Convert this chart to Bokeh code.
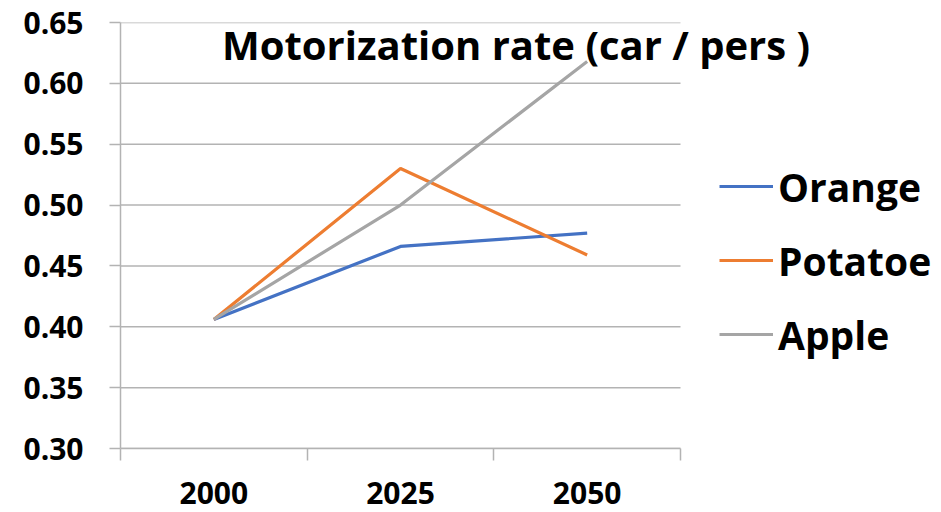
from bokeh.plotting import figure
from bokeh.models import (Range1d, FixedTicker, Legend, LegendItem, Label)
from bokeh.embed import file_html
from bokeh.resources import INLINE

years = ["2000", "2025", "2050"]
orange = [0.406, 0.466, 0.477]
potatoe = [0.406, 0.530, 0.459]
apple = [0.406, 0.500, 0.618]
y_ticks = [0.30, 0.35, 0.40, 0.45, 0.50, 0.55, 0.60, 0.65]
title_text = "Motorization rate (car / pers )"

FONT = "Open Sans"
GRID = "#B3B3B3"
W, H = 940, 511
LEFT, TOP, BOTTOM = 120, 22, 63
AXIS_W = 560  # pixel width of the category area

n = len(years)
xs = [i + 0.5 for i in range(n)]
bounds = [float(i) for i in range(n + 1)]
x_end = n * (W - LEFT) / AXIS_W

p = figure(width=W, height=H, output_backend="svg", toolbar_location=None,
           x_range=Range1d(0, x_end), y_range=Range1d(y_ticks[0], y_ticks[-1]),
           min_border_left=LEFT, min_border_right=0, min_border_top=TOP,
           min_border_bottom=BOTTOM)
p.outline_line_color = None
p.background_fill_color = "white"
p.border_fill_color = "white"
p.xgrid.grid_line_color = None
p.ygrid.grid_line_color = None

# horizontal gridlines limited to the category area
p.segment(x0=[0] * len(y_ticks), x1=[n] * len(y_ticks), y0=y_ticks, y1=y_ticks,
          line_color=GRID, line_width=1.5)

r1 = p.line(xs, orange, line_color="#4472C4", line_width=3.2)
r2 = p.line(xs, potatoe, line_color="#ED7D31", line_width=3.2)
r3 = p.line(xs, apple, line_color="#A5A5A5", line_width=3.2)

# x axis
xa = p.xaxis[0]
xa.bounds = (0, n)
xa.ticker = FixedTicker(ticks=xs, minor_ticks=bounds)
xa.major_label_overrides = {x: y for x, y in zip(xs, years)}
xa.major_tick_line_color = None
xa.major_tick_out = 0
xa.major_tick_in = 0
xa.minor_tick_line_color = GRID
xa.minor_tick_line_width = 1.5
xa.minor_tick_out = 12
xa.minor_tick_in = 0
xa.axis_line_color = GRID
xa.axis_line_width = 1.5
xa.major_label_text_font = FONT
xa.major_label_text_font_style = "bold"
xa.major_label_text_font_size = "30px"
xa.major_label_text_color = "black"
xa.major_label_standoff = 21

# y axis
ya = p.yaxis[0]
ya.ticker = FixedTicker(ticks=y_ticks)
ya.major_label_overrides = {t: f"{t:.2f}" for t in y_ticks}
ya.minor_tick_line_color = None
ya.major_tick_line_color = GRID
ya.major_tick_line_width = 1.5
ya.major_tick_out = 11
ya.major_tick_in = 0
ya.axis_line_color = GRID
ya.axis_line_width = 1.5
ya.major_label_text_font = FONT
ya.major_label_text_font_style = "bold"
ya.major_label_text_font_size = "30px"
ya.major_label_text_color = "black"
ya.major_label_standoff = 26

title = Label(x=2.119, y=0.632, text=title_text, text_align="center",
              text_baseline="alphabetic", text_font=FONT, text_font_style="bold",
              text_font_size="40px", text_color="black")
p.add_layout(title)

legend = Legend(items=[LegendItem(label="Orange", renderers=[r1]),
                       LegendItem(label="Potatoe", renderers=[r2]),
                       LegendItem(label="Apple", renderers=[r3])],
                location=(599, 87), orientation="vertical",
                glyph_width=54, glyph_height=54, label_height=54,
                label_standoff=5, spacing=20, padding=0, margin=0,
                border_line_color=None, background_fill_alpha=0,
                label_text_font=FONT, label_text_font_style="bold",
                label_text_font_size="39px", label_text_color="black")
p.add_layout(legend, "center")

open("out.html", "w").write(file_html(p, INLINE))
